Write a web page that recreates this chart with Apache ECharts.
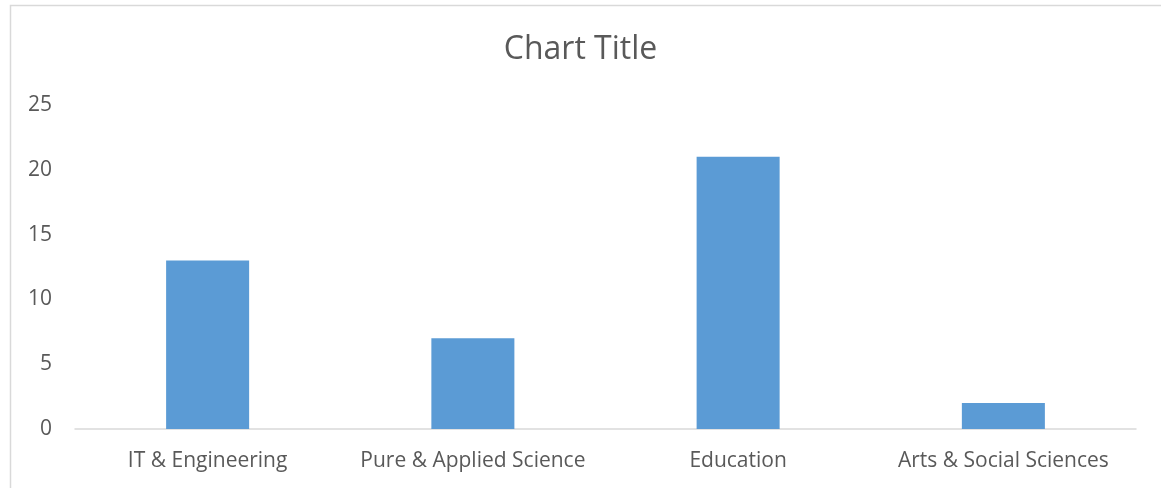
<!DOCTYPE html>
<html>
<head>
<meta charset="utf-8">
<script src="https://cdn.jsdelivr.net/npm/echarts@6/dist/echarts.min.js"></script>
<style>
  html, body { margin: 0; padding: 0; background: #fff; }
  #chart { width: 1161px; height: 488px; }
</style>
</head>
<body>
<div id="chart"></div>
<script>
// Faculty categories and their counts
const categories = ['IT & Engineering', 'Pure & Applied Science', 'Education', 'Arts & Social Sciences'];
const counts = [13, 7, 21, 2];
const yTicks = [0, 5, 10, 15, 20, 25];

const textColor = '#595959';
const fontFamily = 'Open Sans, Liberation Sans, sans-serif';

const chart = echarts.init(document.getElementById('chart'), null, { renderer: 'canvas' });
chart.setOption({
  animation: false,
  backgroundColor: '#ffffff',
  graphic: [{
    type: 'rect',
    silent: true,
    shape: { x: 10.5, y: 5.5, width: 1200, height: 600 },
    style: { fill: 'none', stroke: '#d9d9d9', lineWidth: 1.5 }
  }],
  title: {
    text: 'Chart Title',
    left: 'center',
    top: 29,
    textStyle: { color: textColor, fontFamily: fontFamily, fontSize: 32, fontWeight: 'normal' }
  },
  grid: { left: 75, right: 25, top: 105, bottom: 59, containLabel: false },
  xAxis: {
    type: 'category',
    data: categories,
    axisLine: { lineStyle: { color: '#d9d9d9', width: 1.5 } },
    axisTick: { show: false },
    axisLabel: { color: textColor, fontFamily: fontFamily, fontSize: 21, margin: 22, interval: 0 }
  },
  yAxis: {
    type: 'value',
    min: yTicks[0],
    max: yTicks[yTicks.length - 1],
    interval: 5,
    axisLine: { show: false },
    axisTick: { show: false },
    splitLine: { show: false },
    axisLabel: { color: textColor, fontFamily: fontFamily, fontSize: 21, margin: 23 }
  },
  series: [{
    type: 'bar',
    data: counts,
    barWidth: '31.3%',
    itemStyle: { color: '#5b9bd5' }
  }]
});
</script>
</body>
</html>
